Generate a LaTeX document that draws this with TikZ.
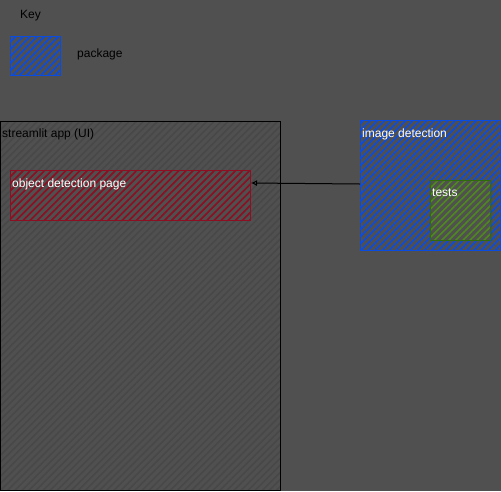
\documentclass[tikz,border=0pt]{standalone}
\usepackage{fontspec}
\setmainfont{Liberation Sans}
\usetikzlibrary{patterns.meta,arrows.meta}
\definecolor{bg}{HTML}{505050}
\definecolor{pkgblue}{HTML}{0A4BE0}
\definecolor{pagered}{HTML}{8E0F22}
\definecolor{testgreen}{HTML}{4E8A1E}
\definecolor{testedge}{HTML}{2F6A0C}
\definecolor{apphatch}{HTML}{484848}
\tikzset{
  hatch/.style={pattern={Lines[angle=45,distance=5pt,line width=1.6pt]},pattern color=#1},
  pkg/.style={draw=pkgblue,line width=1pt,hatch=pkgblue},
  pagebox/.style={draw=pagered,line width=1pt,hatch=pagered},
  testbox/.style={draw=testedge,line width=1.2pt,hatch=testgreen},
  appbox/.style={draw=black,line width=1pt,hatch=apphatch},
  lbl/.style={font=\fontsize{12}{14}\selectfont,inner sep=0pt,anchor=north west},
}
\begin{document}
\begin{tikzpicture}[x=1pt,y=-1pt]
\fill[bg] (0,0) rectangle (501,491);
\useasboundingbox (0,0) rectangle (501,491);
% legend
\node[lbl,text=black] (keylbl) at (20,10) {Key};
\path[pkg] (10,36) rectangle (60,75);
\node[lbl,text=black] (pkglbl) at (77,49) {package};
% streamlit application
\path[appbox] (0,121) rectangle (280,490);
\node[lbl,text=black] (applbl) at (2,129) {streamlit app (UI)};
\node[pagebox,minimum width=240pt,minimum height=50pt,inner sep=0pt,anchor=north west] (page) at (10,170) {};
\node[lbl,text=white] (pagelbl) at (12,179) {object detection page};
% image detection package
\node[pkg,minimum width=140pt,minimum height=130pt,inner sep=0pt,anchor=north west] (imgdet) at (360,120) {};
\node[lbl,text=white] (imglbl) at (362,129) {image detection};
\fill[bg] (430,180) rectangle (490,240);
\node[testbox,minimum width=60pt,minimum height=60pt,inner sep=0pt,anchor=north west] (tests) at (430,180) {};
\node[lbl,text=white] (testlbl) at (432,189) {tests};
% dependency
\draw[-{Latex[open,length=6pt,width=6pt]},line width=1pt,black] (imgdet.west |- 0,184) -- (page.east |- 0,183);
\end{tikzpicture}
\end{document}
